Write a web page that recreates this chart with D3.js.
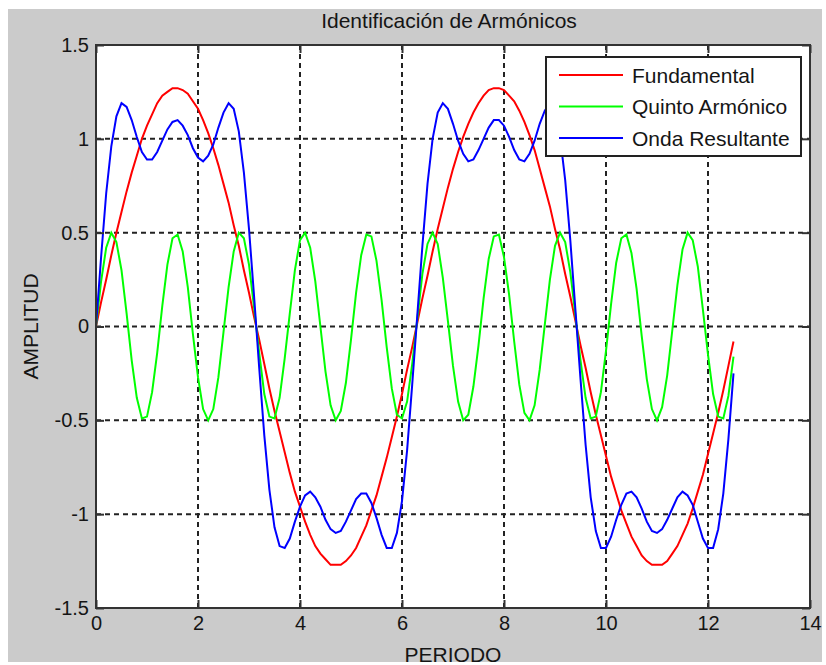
<!DOCTYPE html>
<html lang="es">
<head>
<meta charset="UTF-8">
<script src="https://cdn.jsdelivr.net/npm/d3@7"></script>
<title>Identificación de Armónicos</title>
<style>
  html, body { margin: 0; padding: 0; background: #fff; }
  svg text { font-family: "Liberation Sans", Arial, sans-serif; fill: #151515; }
</style>
</head>
<body>
<svg id="chart" width="826" height="665"></svg>
<script>
// muestreo: t = 0:0.1:12.5
var t0 = 0, dt = 0.1;

var fundamental = [0.00,0.13,0.25,0.38,0.50,0.61,0.72,0.82,0.91,1.00,1.07,1.13,1.19,1.23,1.25,1.27,1.27,1.26,1.24,1.20,
  1.16,1.10,1.03,0.95,0.86,0.76,0.66,0.54,0.43,0.30,0.18,0.05,-0.07,-0.20,-0.33,-0.45,-0.56,-0.67,-0.78,-0.88,
  -0.96,-1.04,-1.11,-1.17,-1.21,-1.24,-1.27,-1.27,-1.27,-1.25,-1.22,-1.18,-1.12,-1.06,-0.98,-0.90,-0.80,-0.70,-0.59,-0.48,
  -0.36,-0.23,-0.11,0.02,0.15,0.27,0.40,0.52,0.63,0.74,0.84,0.93,1.01,1.08,1.14,1.19,1.23,1.26,1.27,1.27,
  1.26,1.23,1.20,1.15,1.09,1.02,0.94,0.84,0.74,0.64,0.52,0.41,0.28,0.16,0.03,-0.10,-0.22,-0.35,-0.47,-0.58,
  -0.69,-0.80,-0.89,-0.98,-1.05,-1.12,-1.17,-1.22,-1.25,-1.27,-1.27,-1.27,-1.25,-1.21,-1.17,-1.11,-1.05,-0.97,-0.88,-0.79,
  -0.68,-0.57,-0.46,-0.34,-0.21,-0.08];

var quinto = [0.00,0.24,0.42,0.50,0.45,0.30,0.07,-0.18,-0.38,-0.49,-0.48,-0.35,-0.14,0.11,0.33,0.47,0.49,0.40,0.21,-0.04,
  -0.27,-0.44,-0.50,-0.44,-0.27,-0.03,0.21,0.40,0.50,0.47,0.33,0.10,-0.14,-0.36,-0.48,-0.49,-0.38,-0.17,0.07,0.30,
  0.46,0.50,0.42,0.24,0.00,-0.24,-0.42,-0.50,-0.45,-0.30,-0.07,0.18,0.38,0.49,0.48,0.35,0.14,-0.11,-0.33,-0.47,
  -0.49,-0.40,-0.20,0.04,0.28,0.44,0.50,0.44,0.26,0.03,-0.21,-0.40,-0.50,-0.47,-0.32,-0.10,0.15,0.36,0.48,0.49,
  0.37,0.17,-0.08,-0.31,-0.46,-0.50,-0.42,-0.23,0.01,0.25,0.43,0.50,0.45,0.29,0.06,-0.18,-0.38,-0.49,-0.48,-0.35,
  -0.13,0.12,0.34,0.47,0.49,0.39,0.20,-0.05,-0.28,-0.44,-0.50,-0.43,-0.26,-0.02,0.22,0.41,0.50,0.46,0.32,0.09,
  -0.15,-0.36,-0.48,-0.49,-0.37,-0.16];

var resultante = [0.00,0.37,0.71,0.96,1.12,1.19,1.17,1.10,1.01,0.93,0.89,0.89,0.93,0.99,1.05,1.09,1.10,1.07,1.02,0.95,
  0.90,0.88,0.91,0.97,1.06,1.14,1.19,1.16,1.04,0.82,0.52,0.16,-0.22,-0.58,-0.87,-1.07,-1.17,-1.18,-1.13,-1.04,
  -0.96,-0.90,-0.88,-0.91,-0.96,-1.03,-1.08,-1.10,-1.09,-1.04,-0.98,-0.92,-0.89,-0.89,-0.94,-1.02,-1.11,-1.18,-1.18,-1.10,
  -0.93,-0.66,-0.31,0.06,0.43,0.76,1.00,1.14,1.19,1.16,1.08,0.99,0.92,0.88,0.89,0.94,1.00,1.06,1.10,1.10,
  1.07,1.01,0.94,0.89,0.88,0.92,0.99,1.08,1.15,1.19,1.15,1.01,0.78,0.46,0.09,-0.28,-0.63,-0.91,-1.09,-1.18,
  -1.18,-1.12,-1.03,-0.95,-0.89,-0.88,-0.91,-0.97,-1.04,-1.09,-1.10,-1.08,-1.03,-0.97,-0.91,-0.88,-0.90,-0.95,-1.04,-1.13,
  -1.18,-1.18,-1.08,-0.89,-0.60,-0.25];

var seriesNames = ["Fundamental", "Quinto Armónico", "Onda Resultante"];
var seriesColors = ["#ff0000", "#00ff00", "#0000ff"];
var xTicks = [0, 2, 4, 6, 8, 10, 12, 14];
var yTicks = [-1.5, -1, -0.5, 0, 0.5, 1, 1.5];

var W = 826, H = 665;
var m = {left: 96, top: 45, right: 810, bottom: 608};

var svg = d3.select("#chart");

// fondo gris de la figura
svg.append("rect").attr("x", 8).attr("y", 9).attr("width", W - 12).attr("height", H - 12)
  .attr("fill", "#cbcbcb");

var x = d3.scaleLinear().domain([0, 14]).range([m.left, m.right]);
var y = d3.scaleLinear().domain([-1.5, 1.5]).range([m.bottom, m.top]);

svg.append("rect").attr("x", m.left).attr("y", m.top)
  .attr("width", m.right - m.left).attr("height", m.bottom - m.top)
  .attr("fill", "#fff");

// rejilla
var grid = svg.append("g").attr("stroke", "#222").attr("stroke-width", 2).attr("stroke-dasharray", "5,4");
grid.selectAll("line.gx").data(xTicks.slice(1, -1)).enter().append("line")
  .attr("x1", function(d) { return x(d); }).attr("x2", function(d) { return x(d); })
  .attr("y1", m.top).attr("y2", m.bottom);
grid.selectAll("line.gy").data(yTicks.slice(1, -1)).enter().append("line")
  .attr("y1", function(d) { return y(d); }).attr("y2", function(d) { return y(d); })
  .attr("x1", m.left).attr("x2", m.right);

// curvas
var line = d3.line()
  .x(function(d, i) { return x(t0 + i * dt); })
  .y(function(d) { return y(d); });

[fundamental, quinto, resultante].forEach(function(s, k) {
  svg.append("path").attr("d", line(s)).attr("fill", "none")
    .attr("stroke", seriesColors[k]).attr("stroke-width", 2);
});

// ejes (ticks hacia dentro, como MATLAB)
var tk = 8;
function styleAxis(g) {
  g.select(".domain").remove();
  g.selectAll(".tick line").attr("stroke", "#333").attr("stroke-width", 2);
  g.selectAll(".tick text").style("font-size", "20px").attr("fill", "#151515")
    .style("font-family", "'Liberation Sans', Arial, sans-serif");
}
svg.append("g").attr("transform", "translate(0," + m.bottom + ")")
  .call(d3.axisBottom(x).tickValues(xTicks).tickSize(-tk).tickPadding(8).tickFormat(d3.format("d")))
  .call(styleAxis);
svg.append("g").attr("transform", "translate(0," + m.top + ")")
  .call(d3.axisTop(x).tickValues(xTicks).tickSize(-tk).tickFormat(""))
  .call(styleAxis);
svg.append("g").attr("transform", "translate(" + m.left + ",0)")
  .call(d3.axisLeft(y).tickValues(yTicks).tickSize(-tk).tickPadding(7).tickFormat(function(d) { return String(d); }))
  .call(styleAxis);
svg.append("g").attr("transform", "translate(" + m.right + ",0)")
  .call(d3.axisRight(y).tickValues(yTicks).tickSize(-tk).tickFormat(""))
  .call(styleAxis);

svg.append("rect").attr("x", m.left).attr("y", m.top)
  .attr("width", m.right - m.left).attr("height", m.bottom - m.top)
  .attr("fill", "none").attr("stroke", "#333").attr("stroke-width", 2);

// textos
svg.append("text").attr("x", (m.left + m.right) / 2 - 4).attr("y", 28)
  .attr("text-anchor", "middle").style("font-size", "21px").text("Identificación de Armónicos");
svg.append("text").attr("x", (m.left + m.right) / 2).attr("y", 662)
  .attr("text-anchor", "middle").style("font-size", "21px").text("PERIODO");
svg.append("text").attr("transform", "translate(38," + y(0) + ") rotate(-90)")
  .attr("text-anchor", "middle").style("font-size", "21px").text("AMPLITUD");

// leyenda
var lg = svg.append("g").attr("transform", "translate(546,57)");
lg.append("rect").attr("width", 255).attr("height", 99)
  .attr("fill", "#fff").attr("stroke", "#222").attr("stroke-width", 2);
seriesNames.forEach(function(name, k) {
  var yy = 18 + k * 31.5;
  lg.append("line").attr("x1", 13).attr("x2", 77).attr("y1", yy).attr("y2", yy)
    .attr("stroke", seriesColors[k]).attr("stroke-width", 2);
  lg.append("text").attr("x", 86).attr("y", yy + 7.5).style("font-size", "21px").text(name);
});
</script>
</body>
</html>
